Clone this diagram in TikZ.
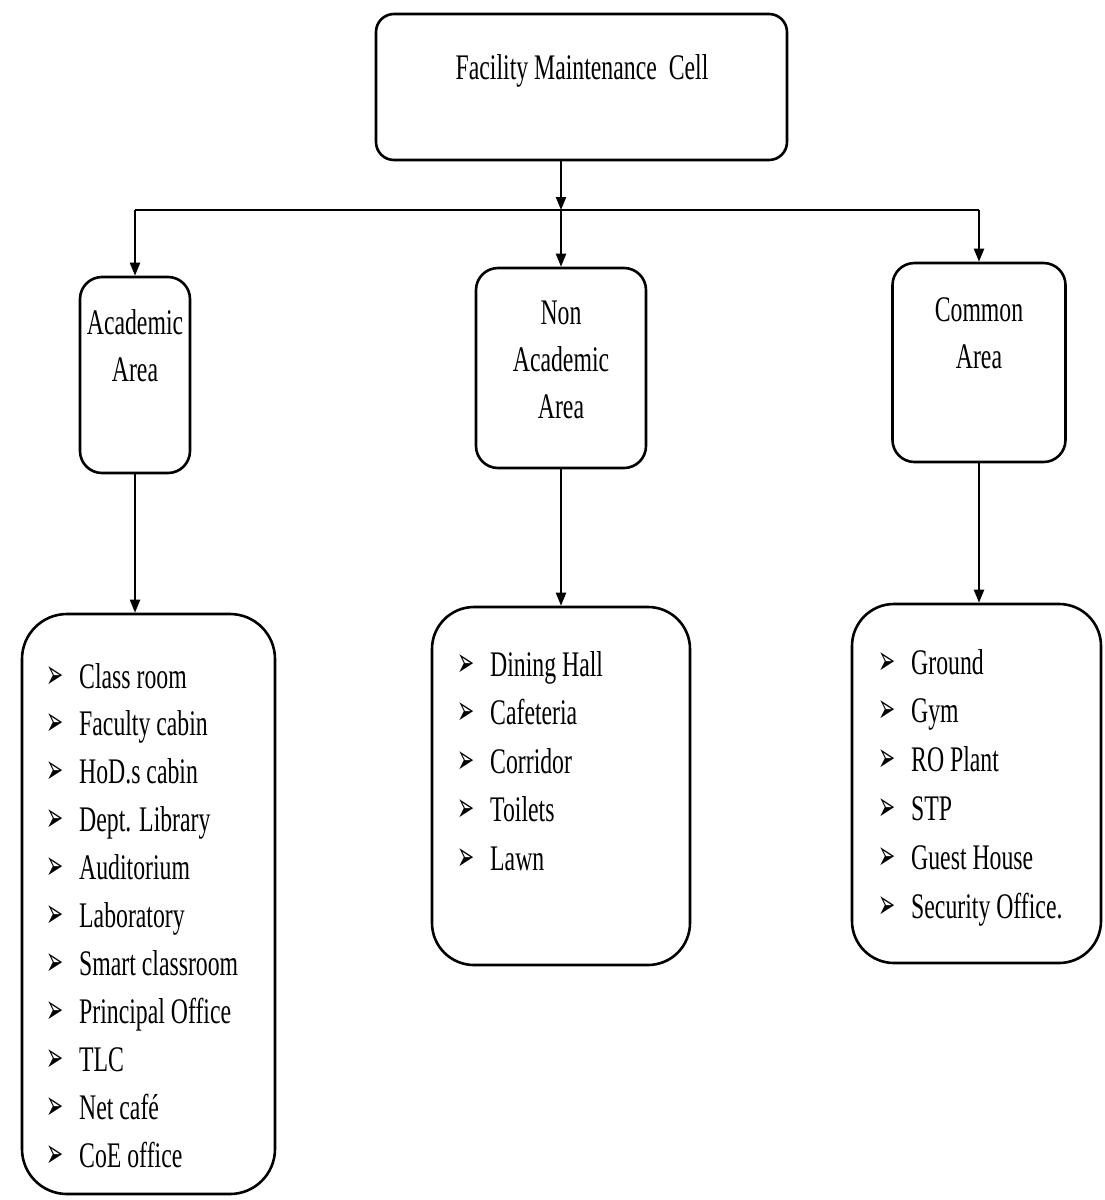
\documentclass[tikz,border=0pt]{standalone}
\usepackage{fontspec}
\usepackage{graphicx}
\setmainfont{Liberation Serif}[FakeStretch=0.66]
\newfontfamily\bulfont{DejaVu Sans}
\usetikzlibrary{arrows.meta}
\newcommand{\bul}{\makebox[33pt][l]{\scalebox{0.5}[1]{\bulfont\fontsize{41}{41}\selectfont ➢}}}
\begin{document}
\begin{tikzpicture}[x=1pt,y=-1pt,
  box/.style={draw, line width=2.6pt, rounded corners=#1, inner sep=0pt},
  box/.default=20pt,
  arr/.style={line width=2.2pt, -{Triangle[length=13pt,width=10pt]}},
  txt/.style={font=\fontsize{36}{47}\selectfont, inner sep=0pt, align=center},
  item/.style={font=\fontsize{36}{47}\selectfont, inner sep=0pt, anchor=base west}]
\useasboundingbox (0,0) rectangle (1104,1200);

% boxes
\node[box=18pt, minimum width=411pt, minimum height=146pt] (top) at (581.5,87) {};
\node[txt, anchor=base] (toptxt) at (582,79) {Facility Maintenance~~Cell};

\node[box=22pt, minimum width=110pt, minimum height=196pt] (acad) at (135,375) {};
\node[txt, anchor=north] (acadtxt) at (135,309) {Academic\\Area};

\node[box=22pt, minimum width=170pt, minimum height=200pt] (non) at (561,368) {};
\node[txt, anchor=north] (nontxt) at (561,301) {Non\\Academic\\Area};

\node[box=22pt, minimum width=173pt, minimum height=199pt] (comm) at (979,362.5) {};
\node[txt, anchor=north] (commtxt) at (979,297) {Common\\Area};

\node[box=45pt, minimum width=253pt, minimum height=580pt] (acadlist) at (148.5,904) {};
\node[box=42pt, minimum width=258pt, minimum height=358pt] (nonlist) at (561,786) {};
\node[box=42pt, minimum width=249pt, minimum height=359pt] (commlist) at (976.5,783.5) {};

% connectors
\coordinate (hl) at (135,210);
\coordinate (hm) at (561,210);
\coordinate (hr) at (979,210);
\draw[arr] (top.south -| hm) -- (hm);
\draw[line width=2.6pt] (hl) -- (hr);
\draw[arr] (hl) -- (acad.north);
\draw[arr] (hm) -- (non.north);
\draw[arr] (hr) -- (comm.north);
\draw[arr] (acad.south) -- (acadlist.north -| acad.south);
\draw[arr] (non.south) -- (nonlist.north -| non.south);
\draw[arr] (comm.south) -- (commlist.north -| comm.south);

% lists
\foreach \t [count=\i from 0] in {Class room,Faculty cabin,HoD.s cabin,Dept. Library,Auditorium,Laboratory,Smart classroom,Principal Office,TLC,Net café,CoE office}
  \node[item] (ac\i) at (46,{688+47.9*\i}) {\bul\t};

\foreach \t [count=\i from 0] in {Dining Hall,Cafeteria,Corridor,Toilets,Lawn}
  \node[item] (na\i) at (457,{676+48.5*\i}) {\bul\t};

\foreach \t [count=\i from 0] in {Ground,Gym,RO Plant,STP,Guest House,Security Office.}
  \node[item] (co\i) at (878,{674+48.8*\i}) {\bul\t};
\end{tikzpicture}
\end{document}
